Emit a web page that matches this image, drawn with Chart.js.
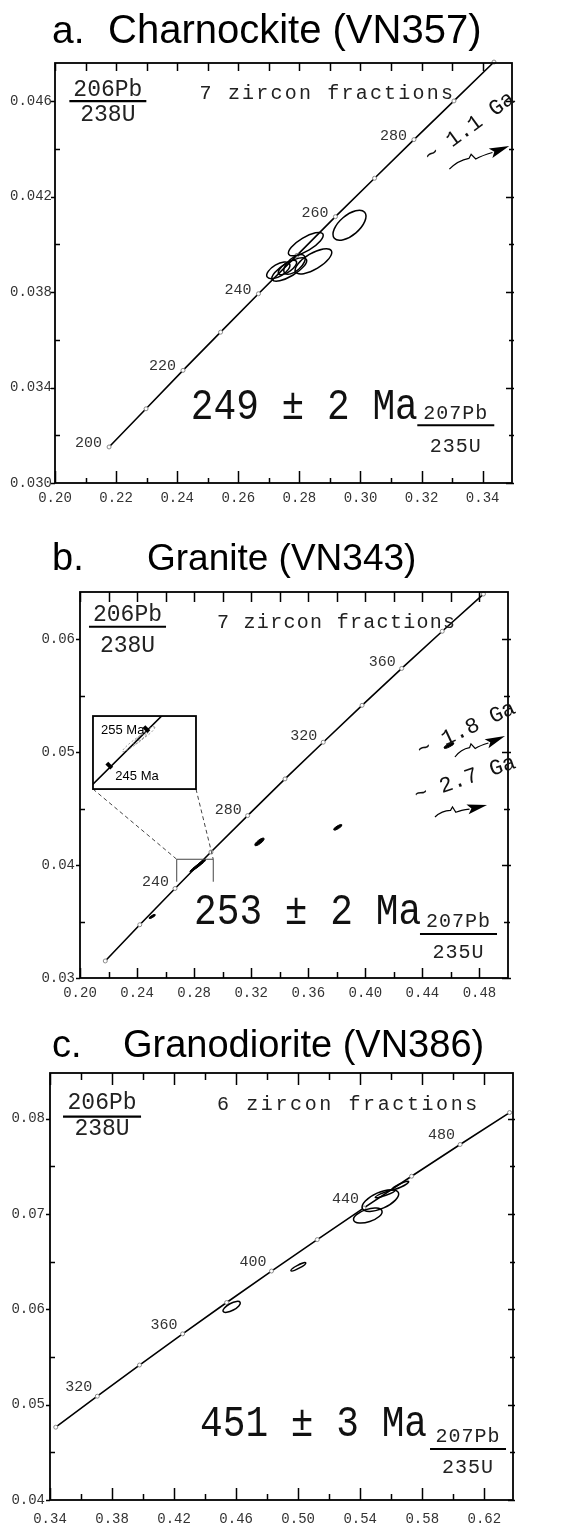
<!DOCTYPE html>
<html>
<head>
<meta charset="utf-8">
<script src="https://cdn.jsdelivr.net/npm/chart.js@4/dist/chart.umd.min.js"></script>
<style>
  html, body { margin: 0; padding: 0; background: #fff; }
  body { width: 574px; height: 1526px; position: relative; overflow: hidden; }
  .panel { position: absolute; left: 0; width: 574px; }
</style>
</head>
<body>
<div class="panel" style="top:0;height:520px"><canvas id="chartA"></canvas></div>
<div class="panel" style="top:520px;height:490px"><canvas id="chartB"></canvas></div>
<div class="panel" style="top:1010px;height:516px"><canvas id="chartC"></canvas></div>
<script>
const MONO = '"Liberation Mono", "DejaVu Sans Mono", monospace'
const SANS = '"Liberation Sans", Arial, sans-serif'

// ---- a. Charnockite (VN357) ----
// concordia age marks (Ma) with 207Pb/235U and 206Pb/238U
const agesA = [200, 210, 220, 230, 240, 250, 260, 270, 280, 290, 300]
const concA207 = [0.2177, 0.2298, 0.2419, 0.2542, 0.2666, 0.2792, 0.2918, 0.3046, 0.3175, 0.3306, 0.3437]
const concA206 = [0.03151, 0.03311, 0.03472, 0.03632, 0.03793, 0.03954, 0.04116, 0.04277, 0.04439, 0.04601, 0.04764]
const ageLabelsA = [200, 220, 240, 260, 280]
// zircon fractions: ratios, 2 sigma errors, error correlation
const fracA207 = [0.2821, 0.2846, 0.2731, 0.2767, 0.2784, 0.2761, 0.2964]
const fracA207err = [0.0057, 0.0060, 0.0038, 0.0057, 0.0035, 0.0030, 0.0054]
const fracA206 = [0.04001, 0.03929, 0.03891, 0.03895, 0.03916, 0.03903, 0.0408]
const fracA206err = [0.00049, 0.00053, 0.00035, 0.00049, 0.00041, 0.00030, 0.00063]
const fracArho = [0.75, 0.7, 0.6, 0.75, 0.6, 0.7, 0.6]
const xMajorA = [0.20, 0.22, 0.24, 0.26, 0.28, 0.30, 0.32, 0.34]
const xMinorA = [0.21, 0.23, 0.25, 0.27, 0.29, 0.31, 0.33]
const yMajorA = [0.030, 0.034, 0.038, 0.042, 0.046]
const yMinorA = [0.032, 0.036, 0.040, 0.044]

// ---- b. Granite (VN343) ----
const agesB = [200, 220, 240, 260, 280, 300, 320, 340, 360, 380, 400]
const concB207 = [0.2177, 0.2419, 0.2666, 0.2918, 0.3175, 0.3437, 0.3705, 0.3977, 0.4255, 0.4539, 0.4828]
const concB206 = [0.03151, 0.03472, 0.03793, 0.04116, 0.04439, 0.04764, 0.05089, 0.05416, 0.05743, 0.06072, 0.06402]
const ageLabelsB = [240, 280, 320, 360]
const fracB207 = [0.2810, 0.2850, 0.2832, 0.2506, 0.3258, 0.3807, 0.4586]
const fracB207err = [0.0040, 0.0030, 0.0025, 0.0022, 0.0033, 0.0029, 0.0035]
const fracB206 = [0.0398, 0.0402, 0.0400, 0.03545, 0.04206, 0.04335, 0.0506]
const fracB206err = [0.00040, 0.00030, 0.00028, 0.00018, 0.00034, 0.00025, 0.00025]
const fracBrho = [0.95, 0.9, 0.9, 0.8, 0.8, 0.8, 0.8]
// inset age marks
const insetAgesB = [245, 255]
const insetB207 = [0.2729, 0.2855]
const insetB206 = [0.03874, 0.04035]
const xMajorB = [0.20, 0.24, 0.28, 0.32, 0.36, 0.40, 0.44, 0.48]
const xMinorB = [0.22, 0.26, 0.30, 0.34, 0.38, 0.42, 0.46]
const yMajorB = [0.03, 0.04, 0.05, 0.06]
const yMinorB = [0.035, 0.045, 0.055]

// ---- c. Granodiorite (VN386) ----
const agesC = [300, 320, 340, 360, 380, 400, 420, 440, 460, 480, 500]
const concC207 = [0.3437, 0.3705, 0.3977, 0.4255, 0.4539, 0.4828, 0.5123, 0.5424, 0.5731, 0.6044, 0.6363]
const concC206 = [0.04764, 0.05089, 0.05416, 0.05743, 0.06072, 0.06402, 0.06732, 0.07064, 0.07397, 0.07730, 0.08065]
const ageLabelsC = [320, 360, 400, 440, 480]
const fracC207 = [0.4571, 0.5001, 0.5449, 0.5530, 0.5562, 0.5659]
const fracC207err = [0.0056, 0.0048, 0.0092, 0.0118, 0.0065, 0.0054]
const fracC206 = [0.06026, 0.06447, 0.06984, 0.07142, 0.07213, 0.0730]
const fracC206err = [0.00058, 0.00044, 0.00079, 0.00114, 0.00042, 0.00044]
const fracCrho = [0.7, 0.9, 0.5, 0.6, 0.9, 0.9]
const xMajorC = [0.34, 0.38, 0.42, 0.46, 0.50, 0.54, 0.58, 0.62]
const xMinorC = [0.36, 0.40, 0.44, 0.48, 0.52, 0.56, 0.60]
const yMajorC = [0.04, 0.05, 0.06, 0.07, 0.08]
const yMinorC = [0.045, 0.055, 0.065, 0.075]

// ---------- drawing helpers ----------
const drawText = (ctx, t, x, y) => {
  ctx.save()
  ctx.translate(x, y)
  if (t.rot) ctx.rotate(t.rot * Math.PI / 180)
  if (t.sx) ctx.scale(t.sx, 1)
  ctx.font = t.font
  ctx.fillStyle = t.color || '#111'
  ctx.textAlign = t.align || 'left'
  ctx.textBaseline = t.baseline || 'alphabetic'
  if ('letterSpacing' in ctx) ctx.letterSpacing = (t.ls || 0) + 'px'
  ctx.fillText(t.text, 0, 0)
  ctx.restore()
}

const drawFrac = (ctx, f, px, py) => {
  const x1 = px(f.x1), x2 = px(f.x2), y = py(f.y), mid = (x1 + x2) / 2
  ctx.save()
  ctx.strokeStyle = '#000'
  ctx.lineWidth = 2.2
  ctx.beginPath()
  ctx.moveTo(x1, y)
  ctx.lineTo(x2, y)
  ctx.stroke()
  ctx.restore()
  drawText(ctx, { text: f.num, font: f.font, align: 'center', color: '#222', ls: f.ls }, mid, y - f.numDy)
  drawText(ctx, { text: f.den, font: f.font, align: 'center', color: '#222', ls: f.ls }, mid, y + f.denDy)
}

const drawArrow = (ctx, x1, y1, x2, y2) => {
  const L = Math.hypot(x2 - x1, y2 - y1)
  const ux = (x2 - x1) / L, uy = (y2 - y1) / L
  const nx = -uy, ny = ux
  const at = (d, n) => [x1 + ux * d + nx * n, y1 + uy * d + ny * n]
  const head = 20
  const base = L - head
  ctx.save()
  ctx.strokeStyle = '#000'
  ctx.fillStyle = '#000'
  ctx.lineWidth = 1.2
  ctx.beginPath()
  ctx.moveTo(...at(0, 0))
  ctx.quadraticCurveTo(...at(base * 0.25, -5), ...at(base * 0.5, -3))
  ctx.lineTo(...at(base * 0.58, -6))
  ctx.lineTo(...at(base * 0.64, 0))
  ctx.quadraticCurveTo(...at(base * 0.8, -1), ...at(base + 2, 0))
  ctx.stroke()
  ctx.beginPath()
  ctx.moveTo(x2, y2)
  ctx.lineTo(...at(base, 5))
  ctx.lineTo(...at(base + 4, 0))
  ctx.lineTo(...at(base, -5))
  ctx.closePath()
  ctx.fill()
  ctx.restore()
}

// error ellipse geometry from a covariance, in pixel space
const ellipseGeom = (px, py, d) => {
  const cx = px(d.x), cy = py(d.y)
  const sx = Math.abs(px(d.x + d.sx) - cx)
  const sy = Math.abs(py(d.y + d.sy) - cy)
  const a = sx * sx, c = sy * sy, b = -d.rho * sx * sy
  const m = (a + c) / 2, r = Math.sqrt(((a - c) / 2) ** 2 + b * b)
  return { cx, cy, r1: Math.sqrt(m + r), r2: Math.sqrt(Math.max(m - r, 0.4)), ang: 0.5 * Math.atan2(2 * b, a - c) }
}

const strokeEllipse = (ctx, g, style) => {
  ctx.beginPath()
  ctx.ellipse(g.cx, g.cy, g.r1, g.r2, g.ang, 0, Math.PI * 2)
  if (style.fill) { ctx.fillStyle = '#000'; ctx.fill() }
  ctx.lineWidth = style.lineWidth
  ctx.strokeStyle = style.color || '#000'
  ctx.stroke()
}

const drawInset = (chart, it, px, py) => {
  const { ctx } = chart
  const L = px(it.box[0]), R = px(it.box[1]), B = py(it.box[2]), T = py(it.box[3])
  const wx = v => L + (v - it.win[0]) / (it.win[1] - it.win[0]) * (R - L)
  const wy = v => B - (v - it.win[2]) / (it.win[3] - it.win[2]) * (B - T)
  const zl = px(it.zoom[0]), zr = px(it.zoom[1]), zb = py(it.zoom[2]), zt = py(it.zoom[3])
  ctx.save()
  // leader lines and zoom window on the main plot
  ctx.strokeStyle = '#444'
  ctx.lineWidth = 1
  ctx.setLineDash([4, 3])
  ctx.beginPath()
  ctx.moveTo(L, B); ctx.lineTo(zl, zt)
  ctx.moveTo(R, B); ctx.lineTo(zr, zt)
  ctx.stroke()
  ctx.setLineDash([])
  ctx.beginPath()
  ctx.moveTo(zl, zb); ctx.lineTo(zl, zt); ctx.lineTo(zr, zt); ctx.lineTo(zr, zb)
  ctx.stroke()
  // inset box
  ctx.fillStyle = '#fff'
  ctx.fillRect(L, T, R - L, B - T)
  ctx.save()
  ctx.beginPath()
  ctx.rect(L, T, R - L, B - T)
  ctx.clip()
  const conc = chart.data.datasets[0].data
  ctx.strokeStyle = '#000'
  ctx.lineWidth = 1.6
  ctx.beginPath()
  conc.forEach((p, i) => i ? ctx.lineTo(wx(p.x), wy(p.y)) : ctx.moveTo(wx(p.x), wy(p.y)))
  ctx.stroke()
  ctx.setLineDash([2, 2])
  chart.data.datasets[1].data.slice(0, 3).forEach(d => strokeEllipse(ctx, ellipseGeom(wx, wy, d), { lineWidth: 0.8, color: '#777' }))
  ctx.setLineDash([])
  ctx.restore()
  ctx.lineWidth = 1.8
  ctx.strokeStyle = '#000'
  ctx.strokeRect(L, T, R - L, B - T)
  // age marks in the inset
  const ang = Math.atan2(wy(conc[3].y) - wy(conc[2].y), wx(conc[3].x) - wx(conc[2].x))
  it.marks.forEach((m, i) => {
    const mx = wx(m.x), my = wy(m.y)
    ctx.save()
    ctx.translate(mx, my)
    ctx.rotate(ang)
    ctx.fillStyle = '#000'
    ctx.fillRect(-2, -5, 4, 7)
    ctx.restore()
    const lab = { text: m.age + ' Ma', font: `13px ${SANS}`, color: '#000', baseline: 'middle' }
    if (i === 0) drawText(ctx, { ...lab, align: 'left' }, mx + 5, my + 10)
    else drawText(ctx, { ...lab, align: 'right' }, mx - 3, my)
  })
  ctx.restore()
}

// ---------- plugins ----------
const frameTicks = {
  id: 'frameTicks',
  afterDraw: (chart, args, o) => {
    const { ctx, chartArea: a, scales: { x, y } } = chart
    ctx.save()
    ctx.strokeStyle = '#000'
    ctx.lineWidth = 1.5
    ctx.beginPath()
    const mark = (vals, scale, side, major) => vals.forEach(v => {
      const p = Math.round(scale.getPixelForValue(v)) + 0.5
      const s = o.len[side]
      const inn = major ? s[0] : s[2], out = major ? s[1] : s[3]
      if (side === 'bottom') { ctx.moveTo(p, a.bottom - inn); ctx.lineTo(p, a.bottom + out) }
      if (side === 'top') { ctx.moveTo(p, a.top + inn); ctx.lineTo(p, a.top - out) }
      if (side === 'left') { ctx.moveTo(a.left + inn, p); ctx.lineTo(a.left - out, p) }
      if (side === 'right') { ctx.moveTo(a.right - inn, p); ctx.lineTo(a.right + out, p) }
    })
    ;['bottom', 'top'].forEach(s => { mark(o.xMajor, x, s, true); mark(o.xMinor, x, s, false) })
    ;['left', 'right'].forEach(s => { mark(o.yMajor, y, s, true); mark(o.yMinor, y, s, false) })
    ctx.stroke()
    ctx.lineWidth = 1.8
    ctx.strokeRect(a.left, a.top, a.right - a.left, a.bottom - a.top)
    ctx.restore()
  }
}

const errorEllipses = {
  id: 'errorEllipses',
  afterDatasetsDraw: chart => {
    const { ctx, scales: { x, y } } = chart
    const px = v => x.getPixelForValue(v)
    const py = v => y.getPixelForValue(v)
    ctx.save()
    chart.data.datasets.forEach(ds => {
      if (!ds.ellipse) return
      ds.data.forEach(d => strokeEllipse(ctx, ellipseGeom(px, py, d), ds.ellipse))
    })
    ctx.restore()
  }
}

const notes = {
  id: 'notes',
  afterDraw: (chart, args, o) => {
    const { ctx, scales: { x, y } } = chart
    const px = v => x.getPixelForValue(v)
    const py = v => y.getPixelForValue(v)
    // concordia age labels
    const conc = chart.data.datasets[0]
    conc.data.forEach(p => {
      if (!o.ageLabels.includes(p.age)) return
      drawText(ctx, { text: String(p.age), font: `15px ${MONO}`, color: '#333', align: 'right', baseline: 'middle' },
        px(p.x) + o.labelOffset[0], py(p.y) + o.labelOffset[1])
    })
    const items = o.items || []
    items.forEach(it => {
      if (it.type === 'title') drawText(ctx, it, it.left, it.baseline)
      else if (it.type === 'text') drawText(ctx, it, px(it.x), py(it.y))
      else if (it.type === 'frac') drawFrac(ctx, it, px, py)
      else if (it.type === 'arrow') drawArrow(ctx, px(it.x1), py(it.y1), px(it.x2), py(it.y2))
      else if (it.type === 'inset') drawInset(chart, it, px, py)
    })
  }
}

// ---------- chart builder ----------
const makePanel = (id, p) => {
  const fracs = p.f207.map((v, i) => ({ x: v, y: p.f206[i], sx: p.f207err[i], sy: p.f206err[i], rho: p.rho[i] }))
  const tickFont = { family: MONO, size: 14 }
  return new Chart(document.getElementById(id), {
    type: 'scatter',
    data: {
      datasets: [
        {
          label: 'concordia',
          data: p.ages.map((a, i) => ({ x: p.c207[i], y: p.c206[i], age: a })),
          showLine: true,
          clip: false,
          borderColor: '#000',
          borderWidth: 1.6,
          pointRadius: 2,
          pointBackgroundColor: '#fff',
          pointBorderColor: '#888',
          pointBorderWidth: 1
        },
        {
          label: 'zircon fractions',
          data: fracs,
          pointRadius: 0,
          showLine: false,
          ellipse: p.ellipse
        }
      ]
    },
    options: {
      responsive: true,
      maintainAspectRatio: false,
      animation: false,
      layout: { padding: { left: 0, right: p.padRight, top: p.padTop, bottom: 0 } },
      plugins: {
        legend: { display: false },
        tooltip: { enabled: false },
        frameTicks: { xMajor: p.xMajor, xMinor: p.xMinor, yMajor: p.yMajor, yMinor: p.yMinor, len: p.tickLen },
        notes: { ageLabels: p.ageLabels, labelOffset: p.labelOffset, items: p.notes }
      },
      scales: {
        x: {
          type: 'linear',
          min: p.xMin,
          max: p.xMax,
          bounds: 'data',
          grid: { display: false, drawTicks: false },
          border: { display: false },
          afterBuildTicks: s => { s.ticks = [...p.xMajor, ...p.xMinor].sort((a, b) => a - b).map(v => ({ value: v })) },
          afterFit: s => { s.height = p.xAxisH },
          ticks: {
            autoSkip: false,
            maxRotation: 0,
            minRotation: 0,
            padding: p.xPad,
            font: tickFont,
            color: '#333',
            callback: v => p.xMajor.includes(v) ? v.toFixed(2) : ''
          }
        },
        y: {
          type: 'linear',
          min: p.yMin,
          max: p.yMax,
          bounds: 'data',
          grid: { display: false, drawTicks: false },
          border: { display: false },
          afterBuildTicks: s => { s.ticks = [...p.yMajor, ...p.yMinor].sort((a, b) => a - b).map(v => ({ value: v })) },
          afterFit: s => { s.width = p.yAxisW },
          ticks: {
            autoSkip: false,
            padding: p.yPad,
            font: tickFont,
            color: '#333',
            callback: v => p.yMajor.includes(v) ? v.toFixed(p.yDec) : ''
          }
        }
      }
    },
    plugins: [errorEllipses, frameTicks, notes]
  })
}

const titleFont = size => `${size}px ${SANS}`
const bigFont = `44px ${MONO}`

makePanel('chartA', {
  ages: agesA, c207: concA207, c206: concA206, ageLabels: ageLabelsA, labelOffset: [-7, -4],
  f207: fracA207, f207err: fracA207err, f206: fracA206, f206err: fracA206err, rho: fracArho,
  ellipse: { fill: false, lineWidth: 1.5 },
  xMin: 0.20, xMax: 0.3496, yMin: 0.030, yMax: 0.0476, yDec: 3,
  xMajor: xMajorA, xMinor: xMinorA, yMajor: yMajorA, yMinor: yMinorA,
  padTop: 63, padRight: 62, xAxisH: 37, yAxisW: 55, xPad: 7, yPad: 3,
  tickLen: { bottom: [12, 0, 5, 0], top: [8, 0, 8, 0], left: [0, 4, 5, 0], right: [6, 2, 3, 2] },
  notes: [
    { type: 'title', text: 'a.', font: titleFont(39), left: 52, baseline: 43, color: '#000' },
    { type: 'title', text: 'Charnockite (VN357)', font: titleFont(40), left: 108, baseline: 43, color: '#000' },
    { type: 'text', text: '7 zircon fractions', x: 0.2473, y: 0.04609, font: `20px ${MONO}`, ls: 2.2, color: '#222' },
    { type: 'frac', x1: 0.2047, x2: 0.2299, y: 0.0460, num: '206Pb', den: '238U', numDy: 5, denDy: 20, font: `23px ${MONO}` },
    { type: 'text', text: '249 \u00b1 2 Ma', x: 0.2816, y: 0.03269, font: bigFont, sx: 0.86, align: 'center' },
    { type: 'frac', x1: 0.3186, x2: 0.3438, y: 0.03242, num: '207Pb', den: '235U', numDy: 6, denDy: 27, font: `20px ${MONO}`, ls: 1 },
    { type: 'text', text: '~ 1.1 Ga', x: 0.3358, y: 0.0449, font: `22px ${MONO}`, rot: -36, align: 'center', baseline: 'middle' },
    { type: 'arrow', x1: 0.3291, y1: 0.04315, x2: 0.3487, y2: 0.04412 }
  ]
})

makePanel('chartB', {
  ages: agesB, c207: concB207, c206: concB206, ageLabels: ageLabelsB, labelOffset: [-6, -6],
  f207: fracB207, f207err: fracB207err, f206: fracB206, f206err: fracB206err, rho: fracBrho,
  ellipse: { fill: true, lineWidth: 1 },
  xMin: 0.20, xMax: 0.50, yMin: 0.03, yMax: 0.0642, yDec: 2,
  xMajor: xMajorB, xMinor: xMinorB, yMajor: yMajorB, yMinor: yMinorB,
  padTop: 72, padRight: 66, xAxisH: 32, yAxisW: 80, xPad: 7, yPad: 5,
  tickLen: { bottom: [10, 0, 6, 0], top: [10, 0, 10, 0], left: [0, 4, 5, 0], right: [6, 3, 4, 2] },
  notes: [
    { type: 'title', text: 'b.', font: titleFont(38), left: 52, baseline: 50, color: '#000' },
    { type: 'title', text: 'Granite (VN343)', font: titleFont(37), left: 147, baseline: 50, color: '#000' },
    { type: 'text', text: '7 zircon fractions', x: 0.2960, y: 0.06098, font: `20px ${MONO}`, ls: 1.3, color: '#222' },
    { type: 'frac', x1: 0.2063, x2: 0.2603, y: 0.06112, num: '206Pb', den: '238U', numDy: 6, denDy: 25, font: `23px ${MONO}` },
    { type: 'text', text: '253 \u00b1 2 Ma', x: 0.3595, y: 0.03478, font: bigFont, sx: 0.86, align: 'center' },
    { type: 'frac', x1: 0.4383, x2: 0.4923, y: 0.0339, num: '207Pb', den: '235U', numDy: 7, denDy: 24, font: `20px ${MONO}`, ls: 1 },
    { type: 'text', text: '~ 1.8 Ga', x: 0.4709, y: 0.05202, font: `22px ${MONO}`, rot: -25, align: 'center', baseline: 'middle' },
    { type: 'arrow', x1: 0.4628, y1: 0.04958, x2: 0.4979, y2: 0.05144 },
    { type: 'text', text: '~ 2.7 Ga', x: 0.4699, y: 0.04763, font: `22px ${MONO}`, rot: -19, align: 'center', baseline: 'middle' },
    { type: 'arrow', x1: 0.4488, y1: 0.04426, x2: 0.4853, y2: 0.04533 },
    {
      type: 'inset',
      box: [0.2091, 0.2813, 0.04674, 0.05321],
      win: [0.267, 0.302, 0.03776, 0.04097],
      zoom: [0.2678, 0.2934, 0.03853, 0.04052],
      marks: insetAgesB.map((a, i) => ({ age: a, x: insetB207[i], y: insetB206[i] }))
    }
  ]
})

makePanel('chartC', {
  ages: agesC, c207: concC207, c206: concC206, ageLabels: ageLabelsC, labelOffset: [-5, -9],
  f207: fracC207, f207err: fracC207err, f206: fracC206, f206err: fracC206err, rho: fracCrho,
  ellipse: { fill: false, lineWidth: 1.5 },
  xMin: 0.34, xMax: 0.6385, yMin: 0.04, yMax: 0.0848, yDec: 2,
  xMajor: xMajorC, xMinor: xMinorC, yMajor: yMajorC, yMinor: yMinorC,
  padTop: 63, padRight: 61, xAxisH: 26, yAxisW: 50, xPad: 11, yPad: 5,
  tickLen: { bottom: [12, 0, 6, 0], top: [12, 0, 7, 0], left: [0, 4, 5, 0], right: [5, 2, 3, 2] },
  notes: [
    { type: 'title', text: 'c.', font: titleFont(38), left: 52, baseline: 47, color: '#000' },
    { type: 'title', text: 'Granodiorite (VN386)', font: titleFont(38), left: 123, baseline: 47, color: '#000' },
    { type: 'text', text: '6 zircon fractions', x: 0.4477, y: 0.08092, font: `20px ${MONO}`, ls: 2.6, color: '#222' },
    { type: 'frac', x1: 0.3484, x2: 0.3987, y: 0.08022, num: '206Pb', den: '238U', numDy: 8, denDy: 18, font: `23px ${MONO}` },
    { type: 'text', text: '451 \u00b1 3 Ma', x: 0.5099, y: 0.04675, font: bigFont, sx: 0.86, align: 'center' },
    { type: 'frac', x1: 0.5850, x2: 0.6340, y: 0.04535, num: '207Pb', den: '235U', numDy: 7, denDy: 24, font: `20px ${MONO}`, ls: 1 }
  ]
})
</script>
</body>
</html>
